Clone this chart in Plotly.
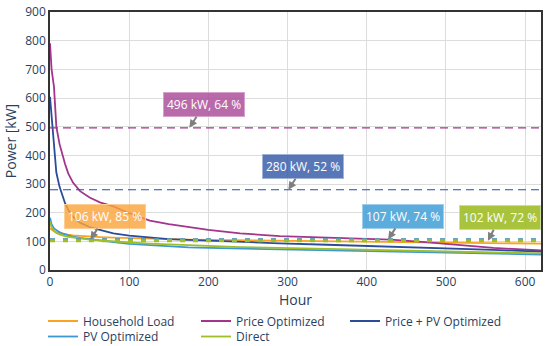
import plotly.graph_objects as go

hours = [0, 2, 5, 8, 12, 15, 19, 23, 29, 38, 50, 63, 80, 100, 126, 150, 175, 200, 240, 290, 350, 430, 470, 513, 560, 620]

household_load = [145, 140, 135, 132, 129, 127, 125, 123, 121, 119, 117, 115, 113, 111, 109, 107, 106, 105, 104, 102, 101, 99, 98, 96, 94, 92]
price_optimized = [791, 700, 640, 500, 440, 407, 370, 337, 305, 275, 253, 236, 222, 198, 172, 160, 150, 140, 128, 118, 113, 106, 98, 88, 77, 68]
price_pv_optimized = [604, 535, 420, 340, 291, 265, 233, 210, 186, 165, 150, 140, 128, 120, 114, 108, 105, 102, 98, 93, 88, 82, 79, 75, 70, 64]
pv_optimized = [182, 160, 145, 138, 132, 128, 124, 120, 116, 112, 107, 103, 97, 91, 86, 82, 79, 77, 75, 71, 68, 64, 62, 60, 57, 54]
direct = [170, 148, 136, 129, 124, 121, 118, 116, 113, 110, 106, 103, 99, 96, 92, 89, 86, 84, 80, 77, 73, 68, 66, 64, 61, 58]

series_names = ["Household Load", "Price Optimized", "Price + PV Optimized", "PV Optimized", "Direct"]
series_values = [household_load, price_optimized, price_pv_optimized, pv_optimized, direct]
series_colors = ["#FBA31E", "#A3358C", "#2B4C9B", "#3C97D5", "#9EBE2A"]
series_legend = ["legend", "legend", "legend3", "legend2", "legend2"]

# peak thresholds (kW), share (%), and hour where label points
peak_names = ["Price Optimized", "Price + PV Optimized", "Household Load", "PV Optimized", "Direct"]
peak_kw = [496, 280, 106, 107, 102]
peak_pct = [64, 52, 85, 74, 72]
label_hour = [176, 301, 51, 427, 553]
peak_colors = ["#A3358C", "#2B4C9B", "#FBA31E", "#3C97D5", "#9EBE2A"]
box_colors = ["rgba(172,80,155,0.85)", "rgba(60,95,170,0.85)", "rgba(251,165,60,0.82)", "rgba(70,160,215,0.88)", "rgba(160,188,40,0.9)"]
border_colors = ["rgba(215,160,205,1)", "rgba(160,180,215,1)", "rgba(253,205,150,1)", "rgba(160,205,235,1)", "rgba(205,222,150,1)"]
arrow_ax = [15, 15, 15, 15, 12]

FONT = "Open Sans"
TXT = "#2a3f5f"

fig = go.Figure()
for name, vals, col, lg in zip(series_names, series_values, series_colors, series_legend):
    fig.add_trace(go.Scatter(x=hours, y=vals, mode="lines", name=name, legend=lg,
                             line=dict(color=col, width=1.8)))

dash_specs = {"Price Optimized": ("8px,5px", 1.2), "Price + PV Optimized": ("8px,5px", 1.2),
              "Household Load": ("5px,8px", 2.0), "PV Optimized": ("5px,8px", 2.0), "Direct": ("5px,8px", 3.0)}
for i in range(len(peak_kw)):
    d, w = dash_specs[peak_names[i]]
    fig.add_hline(y=peak_kw[i], line=dict(color=peak_colors[i], width=w, dash=d))

for i in range(len(peak_kw)):
    fig.add_annotation(x=label_hour[i], y=peak_kw[i], text=f"{peak_kw[i]} kW, {peak_pct[i]} %",
                       showarrow=True, ax=arrow_ax[i], ay=-23, arrowcolor="#7f7f7f", arrowwidth=2,
                       arrowhead=2, arrowsize=0.8, standoff=0,
                       bgcolor=box_colors[i], bordercolor=border_colors[i], borderwidth=1,
                       borderpad=3, font=dict(family=FONT, size=12, color="white"))

legend_common = dict(orientation="h", xanchor="left", yanchor="top",
                     font=dict(family=FONT, size=12, color=TXT), itemwidth=30,
                     bgcolor="rgba(0,0,0,0)")

PW = 550 - 50 - 9
PH = 346 - 12 - 76
fig.update_layout(
    width=550, height=346,
    margin=dict(l=50, r=9, t=12, b=76, autoexpand=False),
    paper_bgcolor="white", plot_bgcolor="white",
    font=dict(family=FONT, size=12, color=TXT),
    showlegend=True,
    legend=dict(x=(43 - 50) / PW, y=(270 - 306.5) / PH, entrywidth=108, entrywidthmode="pixels", **legend_common),
    legend3=dict(x=(345 - 50) / PW, y=(270 - 306.5) / PH, **legend_common),
    legend2=dict(x=(43 - 50) / PW, y=(270 - 322) / PH, entrywidth=108, entrywidthmode="pixels", **legend_common),
    xaxis=dict(range=[0, 620], tickvals=[0, 100, 200, 300, 400, 500, 600],
               showgrid=True, gridcolor="#dcdcdc", gridwidth=1,
               showline=True, linecolor="#333333", linewidth=1.5, mirror=True,
               zeroline=False, ticks="", tickfont=dict(size=12, color=TXT), automargin=True,
               title=dict(text="Hour", font=dict(size=14, color=TXT), standoff=5)),
    yaxis=dict(range=[0, 900], tickvals=[0, 100, 200, 300, 400, 500, 600, 700, 800, 900],
               showgrid=True, gridcolor="#dcdcdc", gridwidth=1,
               showline=True, linecolor="#333333", linewidth=1.5, mirror=True,
               zeroline=False, ticks="", tickfont=dict(size=12, color=TXT), automargin=True,
               title=dict(text="Power [kW]", font=dict(size=14, color=TXT), standoff=5)),
)

fig.write_html("out.html", config={"displayModeBar": False},
               post_script="document.body.style.margin='0px';")
